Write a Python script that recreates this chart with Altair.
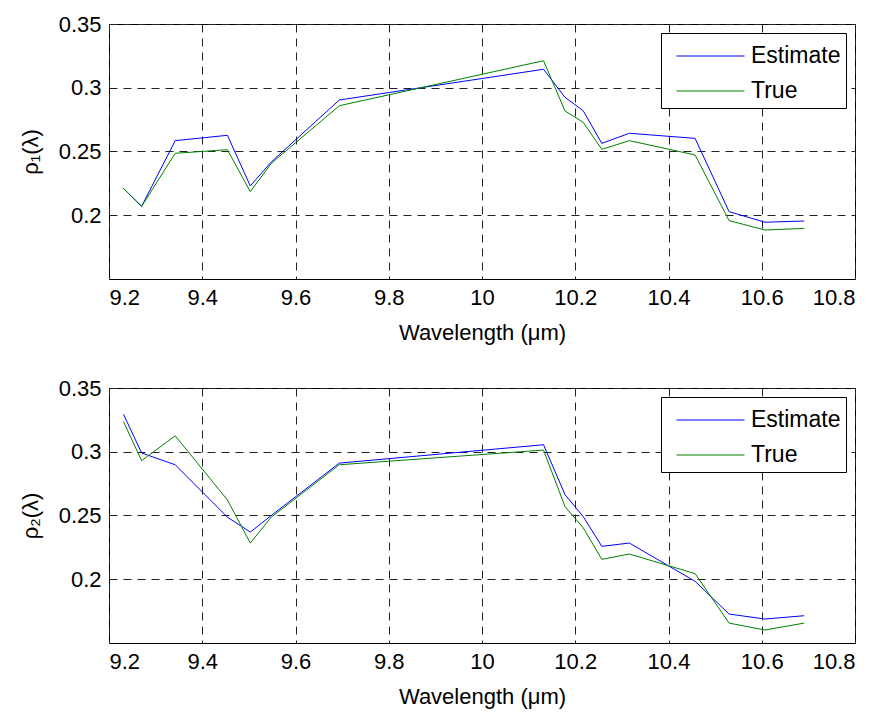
import altair as alt
import pandas as pd

wavelength = [9.231, 9.270, 9.342, 9.454, 9.503, 9.548, 9.694, 10.132,
              10.178, 10.217, 10.257, 10.316, 10.457, 10.530, 10.607, 10.691]

rho1_estimate = [0.221, 0.207, 0.2585, 0.2627, 0.223, 0.2418, 0.2904, 0.3145,
                 0.2925, 0.282, 0.2564, 0.2643, 0.2603, 0.2028, 0.1945, 0.1955]
rho1_true = [0.221, 0.207, 0.2486, 0.2514, 0.2185, 0.2407, 0.2859, 0.3212,
             0.2818, 0.2729, 0.2517, 0.2585, 0.2473, 0.1958, 0.1884, 0.1897]

rho2_estimate = [0.3294, 0.299, 0.2898, 0.2487, 0.237, 0.25, 0.2911, 0.3055,
                 0.2664, 0.2492, 0.2258, 0.2284, 0.1984, 0.1727, 0.1688, 0.1714]
rho2_true = [0.3237, 0.293, 0.3125, 0.2622, 0.2284, 0.2487, 0.2898, 0.3013,
             0.257, 0.2404, 0.2156, 0.2198, 0.2044, 0.1656, 0.1602, 0.1656]

series_names = ["Estimate", "True"]
series_colors = ["#0000ff", "#008000"]
x_ticks = [9.2, 9.4, 9.6, 9.8, 10.0, 10.2, 10.4, 10.6, 10.8]
y_ticks = [0.2, 0.25, 0.3, 0.35]

FONT = "Liberation Sans"


def make_df(est, tru):
    rows = []
    for name, vals in zip(series_names, [est, tru]):
        for i, (x, y) in enumerate(zip(wavelength, vals)):
            rows.append({"wavelength": x, "rho": y, "series": name, "order": i})
    return pd.DataFrame(rows)


def panel(est, tru, ytitle):
    df = make_df(est, tru)
    return alt.Chart(df).mark_line(strokeWidth=1).encode(
        x=alt.X("wavelength:Q",
                scale=alt.Scale(domain=[9.2, 10.8], nice=False, zero=False),
                axis=alt.Axis(values=x_ticks, format=".3~r",
                              title="Wavelength (μm)")),
        y=alt.Y("rho:Q",
                scale=alt.Scale(domain=[0.15, 0.35], nice=False, zero=False),
                axis=alt.Axis(values=y_ticks, format=".2~r", title=ytitle)),
        color=alt.Color("series:N",
                        scale=alt.Scale(domain=series_names, range=series_colors),
                        legend=alt.Legend(title=None, orient="top-right", offset=9)),
        order="order:Q",
    ).properties(width=746, height=255)


top = panel(rho1_estimate, rho1_true, "ρ₁(λ)")
bottom = panel(rho2_estimate, rho2_true, "ρ₂(λ)")

chart = alt.vconcat(top, bottom, spacing=32).resolve_scale(
    color="independent"
).resolve_legend(
    color="independent"
).properties(
    padding={"left": 10, "top": 4, "right": 5, "bottom": 5}
).configure_view(
    stroke="black", strokeWidth=1
).configure_axis(
    labelFont=FONT, titleFont=FONT, labelFontSize=22, titleFontSize=22,
    labelColor="black", titleColor="black", titleFontWeight="normal",
    domain=False, ticks=False, grid=True, gridColor="#222222",
    gridDash=[8, 6], gridWidth=1, gridOpacity=1,
).configure_axisX(
    labelPadding=8, titlePadding=14
).configure_axisY(
    labelPadding=8, titlePadding=16
).configure_legend(
    labelFont=FONT, labelFontSize=23, labelColor="black",
    strokeColor="black", fillColor="white", padding=5, cornerRadius=0,
    symbolType="M-1,0H2.886", symbolSize=1225, symbolStrokeWidth=1,
    symbolOffset=10, labelOffset=39, rowPadding=5,
)

chart.save("out.html", embed_options={"renderer": "svg", "actions": False})
